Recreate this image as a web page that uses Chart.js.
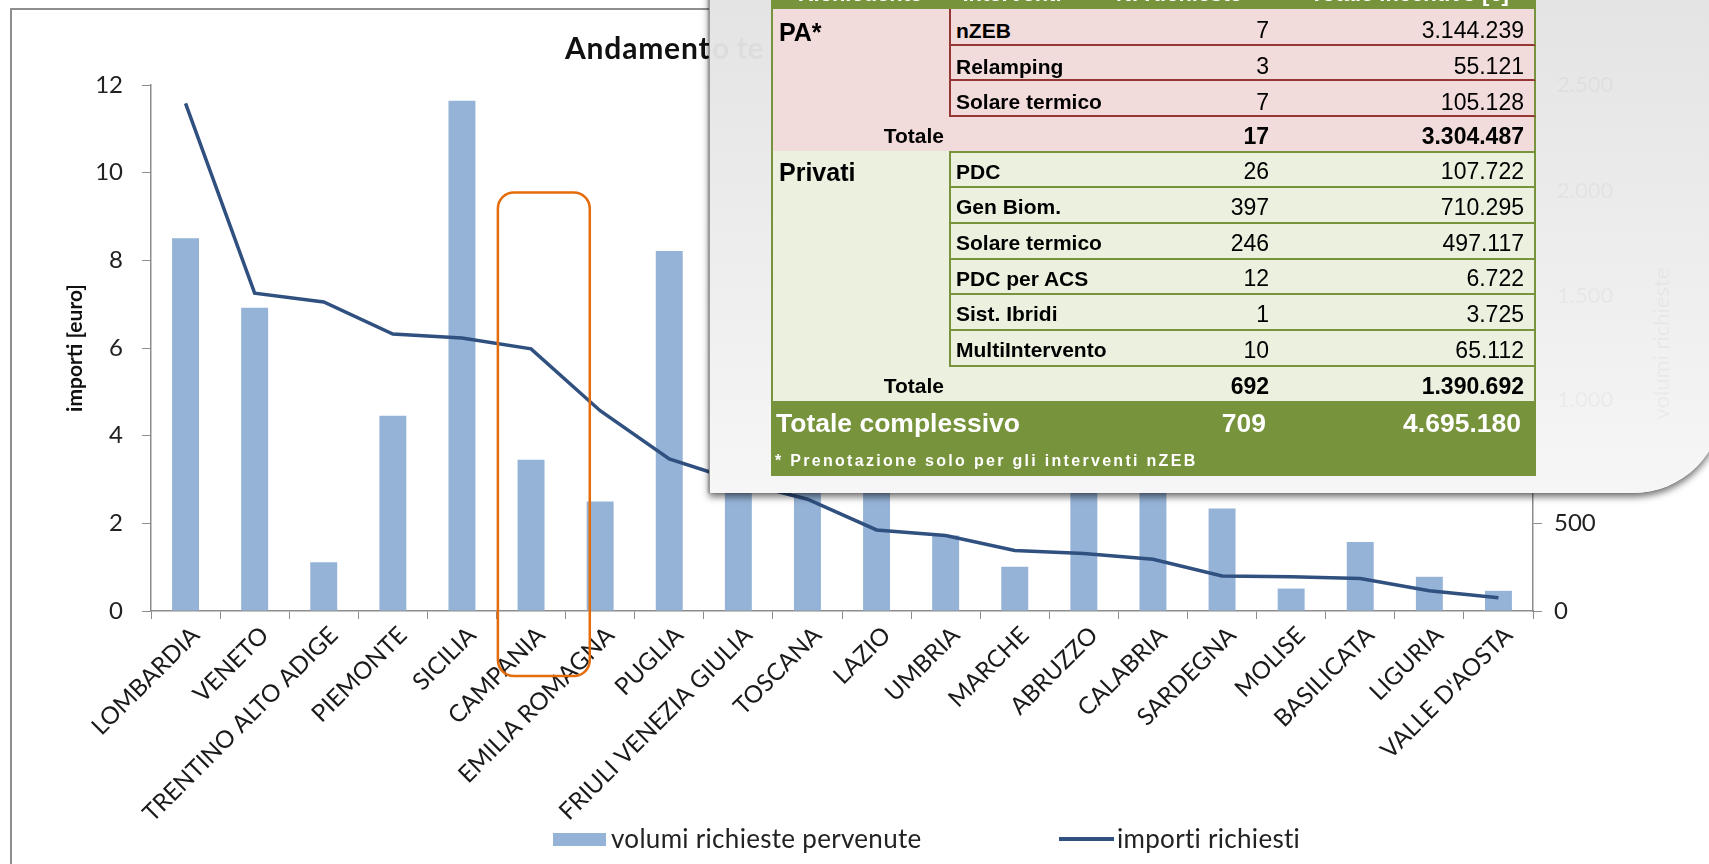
<!DOCTYPE html>
<html lang="it">
<head>
<meta charset="UTF-8">
<title>Andamento territoriale</title>
<script src="https://cdn.jsdelivr.net/npm/chart.js"></script>
<style>
  html, body { margin: 0; padding: 0; width: 1709px; height: 864px; overflow: hidden; background: #fff; }
  #frame { position: absolute; left: 10px; top: 8px; width: 2000px; height: 1000px; border: 2px solid #8e8e8e; box-sizing: border-box; }
  #grafico { position: absolute; left: 0; top: 0; }
  #titolo { position: absolute; left: 565px; top: 29px; font: bold 30px Lato, sans-serif; letter-spacing: 0.8px; color: #111; white-space: nowrap; }
  .leg { position: absolute; font: 26px Lato, sans-serif; letter-spacing: 0.3px; color: #222; white-space: nowrap; line-height: 30px; }
  #pannello {
    position: absolute; left: 709px; top: -20px; width: 1013px; height: 513px;
    border-bottom-right-radius: 90px; border-left: 1px solid #9a9a9a;
    background: linear-gradient(to bottom, #e3e3e3, #f6f6f6);
    box-shadow: 0 4px 7px rgba(0,0,0,0.55), -1px 0 2px rgba(0,0,0,0.25);
  }
  .ghost { position: absolute; color: rgba(0,0,0,0.035); white-space: nowrap; font-family: Lato, sans-serif; }
  #tabella {
    position: absolute; left: 771px; top: -27px; display: grid;
    grid-template-columns: 178px 126px 208px 253px;
    grid-template-rows: 36px 37px 35px 36px 34px 37px 36px 36px 35px 36px 36px 34px 41px 34px;
  }
  .c { display: flex; align-items: center; box-sizing: border-box; white-space: nowrap;
       font-family: "Liberation Sans", Arial, sans-serif; color: #000; padding-top: 4px; }
  .h { background: #77933C; color: #fff; font-weight: bold; font-size: 22px; justify-content: center; align-items: flex-end; line-height: 22px; padding-bottom: 4px; }
  .pa { background: #F2DCDB; }
  .pa.det { padding-top: 8px; }
  .pr { background: #EBF1DE; }
  .gr { background: #77933C; color: #fff; }
  .lab1 { align-items: flex-start; font-weight: bold; font-size: 25px; padding: 9px 0 0 6px; border-left: 2px solid #77933C; }
  .pr.lab1 { padding-top: 7px; }
  .name { font-weight: bold; font-size: 21px; padding-left: 5px; position: relative; z-index: 2; }
  .num { justify-content: flex-end; font-size: 23px; }
  .c3 { padding-right: 14px; }
  .c4 { padding-right: 10px; border-right: 2px solid #77933C; }
  .b { font-weight: bold; }
  .tot { justify-content: flex-end; font-weight: bold; font-size: 21px; padding-right: 5px; border-left: 2px solid #77933C; }
  .redL { border-left: 2px solid #953735; }
  .redB { border-bottom: 2px solid #953735; }
  .grnL { border-left: 2px solid #77933C; }
  .grnB { border-bottom: 2px solid #77933C; }
  .grnT { border-top: 2px solid #77933C; }
</style>
</head>
<body>
<div id="frame"></div>
<canvas id="grafico" width="1709" height="864"></canvas>
<div id="titolo">Andamento territoriale</div>

<div id="pannello"></div>
<div class="ghost" style="left:712px; top:29px; font-weight:bold; font-size:30px;">o te</div>
<div class="ghost" style="left:1557px; top:70px; font-size:22px;">2.500</div>
<div class="ghost" style="left:1557px; top:176px; font-size:22px;">2.000</div>
<div class="ghost" style="left:1557px; top:281px; font-size:22px;">1.500</div>
<div class="ghost" style="left:1557px; top:385px; font-size:22px;">1.000</div>
<div class="ghost" style="left:1585px; top:330px; font-size:22px; transform:rotate(-90deg);">volumi richieste</div>
<div id="tabella"></div>

<script>
    const regioni = ['LOMBARDIA', 'VENETO', 'TRENTINO ALTO ADIGE', 'PIEMONTE', 'SICILIA', 'CAMPANIA',
        'EMILIA ROMAGNA', 'PUGLIA', 'FRIULI VENEZIA GIULIA', 'TOSCANA', 'LAZIO', 'UMBRIA', 'MARCHE',
        'ABRUZZO', 'CALABRIA', 'SARDEGNA', 'MOLISE', 'BASILICATA', 'LIGURIA', "VALLE D'AOSTA"];
    const volumiRichieste = [2126, 1730, 278, 1114, 2910, 863, 625, 2053, 1450, 1250, 1120, 430, 253, 760, 980, 585, 128, 393, 195, 115];
    const importiRichiesti = [11.58, 7.25, 7.05, 6.32, 6.23, 5.98, 4.57, 3.47, 2.96, 2.55, 1.85, 1.72, 1.38, 1.31, 1.18, 0.80, 0.78, 0.74, 0.46, 0.30];
    const importiTicks = [0, 2, 4, 6, 8, 10, 12];
    const volumiTicks = [0, 500, 1000, 1500, 2000, 2500, 3000];

    // riquadro arancione sulla Campania
    const regioneEvidenziata = 'CAMPANIA';
    const riquadroTop = 9.55;

    // tabella riepilogo
    const intestazione = ['Richiedente', 'Interventi', 'N. Richieste', 'Totale incentivo [€]'];
    const interventiPA = ['nZEB', 'Relamping', 'Solare termico'];
    const richiestePA = [7, 3, 7];
    const incentivoPA = [3144239, 55121, 105128];
    const totalePA = [17, 3304487];
    const interventiPrivati = ['PDC', 'Gen Biom.', 'Solare termico', 'PDC per ACS', 'Sist. Ibridi', 'MultiIntervento'];
    const richiestePrivati = [26, 397, 246, 12, 1, 10];
    const incentivoPrivati = [107722, 710295, 497117, 6722, 3725, 65112];
    const totalePrivati = [692, 1390692];
    const totaleComplessivo = [709, 4695180];
    const nota = '* Prenotazione solo per gli interventi nZEB';

    const fmt = n => String(n).replace(/\B(?=(\d{3})+(?!\d))/g, '.');

    const coloreBarre = '#95B3D7';
    const coloreLinea = '#30507F';
    const grigioAssi = '#8c8c8c';

    const riquadro = {
        id: 'riquadro',
        afterDraw(c) {
            const x = c.scales.x, y = c.scales.yImp, ctx = c.ctx;
            const i = regioni.indexOf(regioneEvidenziata);
            const w = x.getPixelForValue(1) - x.getPixelForValue(0);
            const left = x.getPixelForValue(i) - w * 0.48;
            const right = x.getPixelForValue(i) + w * 0.85;
            const top = y.getPixelForValue(riquadroTop);
            const bottom = c.chartArea.bottom + 65;
            ctx.save();
            ctx.strokeStyle = '#E46C0A';
            ctx.lineWidth = 2.5;
            ctx.beginPath();
            ctx.roundRect(left, top, right - left, bottom - top, 16);
            ctx.stroke();
            ctx.restore();
        }
    };

    const chart = new Chart(document.getElementById('grafico'), {
        type: 'bar',
        data: {
            labels: regioni,
            datasets: [{
                type: 'bar',
                label: 'volumi richieste pervenute',
                data: volumiRichieste,
                yAxisID: 'yVol',
                backgroundColor: coloreBarre,
                barPercentage: 0.39,
                categoryPercentage: 1,
                order: 2
            }, {
                type: 'line',
                label: 'importi richiesti',
                data: importiRichiesti,
                yAxisID: 'yImp',
                borderColor: coloreLinea,
                borderWidth: 3.5,
                pointRadius: 0,
                tension: 0,
                order: 1
            }]
        },
        options: {
            responsive: false,
            animation: false,
            layout: {padding: {top: 85}},
            plugins: {legend: {display: false}, title: {display: false}, tooltip: {enabled: false}},
            scales: {
                x: {
                    grid: {drawOnChartArea: false, tickLength: 8, color: grigioAssi, offset: true},
                    border: {color: grigioAssi, width: 1.5},
                    ticks: {font: {family: 'Lato', size: 24}, color: '#1a1a1a', maxRotation: 45, minRotation: 45,
                            autoSkip: false, padding: 2, labelOffset: 10},
                    afterFit: s => { s.height = 253; }
                },
                yImp: {
                    position: 'left', min: 0, max: 12,
                    afterBuildTicks: s => { s.ticks = importiTicks.map(v => ({value: v})); },
                    grid: {drawOnChartArea: false, tickLength: 9, color: grigioAssi},
                    border: {color: grigioAssi, width: 1.5},
                    ticks: {font: {family: 'Lato', size: 24}, color: '#222', padding: 19},
                    title: {display: true, text: 'importi [euro]', font: {family: 'Lato', size: 21, weight: 'bold'}, color: '#111', padding: {top: 63}},
                    afterFit: s => { s.width = 151; }
                },
                yVol: {
                    position: 'right', min: 0, max: 3000,
                    afterBuildTicks: s => { s.ticks = volumiTicks.map(v => ({value: v})); },
                    grid: {drawOnChartArea: false, tickLength: 9, color: grigioAssi},
                    border: {color: grigioAssi, width: 1.5},
                    ticks: {font: {family: 'Lato', size: 24}, color: '#222', padding: 12, callback: v => fmt(v)},
                    title: {display: true, text: 'volumi richieste', font: {family: 'Lato', size: 20}, color: '#ccc', padding: {top: 32}},
                    afterFit: s => { s.width = 176; }
                }
            }
        },
        plugins: [riquadro]
    });

    // legenda in basso
    const legPos = [{sw: 553, tx: 611}, {sw: 1059, tx: 1117}];
    chart.data.datasets.forEach((ds, k) => {
        const sw = document.createElement('div');
        sw.style.position = 'absolute';
        sw.style.left = legPos[k].sw + 'px';
        if (ds.type === 'bar') {
            Object.assign(sw.style, {top: '833px', width: '53px', height: '13px', background: ds.backgroundColor});
        } else {
            Object.assign(sw.style, {top: '837px', width: '55px', height: '4px', background: ds.borderColor});
        }
        document.body.appendChild(sw);
        const t = document.createElement('div');
        t.className = 'leg';
        t.style.left = legPos[k].tx + 'px';
        t.style.top = '823px';
        t.textContent = ds.label;
        document.body.appendChild(t);
    });

    // tabella
    const tab = document.getElementById('tabella');
    function cella(testo, riga, col, cls) {
        const d = document.createElement('div');
        d.className = 'c ' + cls;
        d.textContent = testo;
        d.style.gridRow = riga;
        d.style.gridColumn = col;
        tab.appendChild(d);
        return d;
    }
    intestazione.forEach((t, k) => cella(t, 1, k + 1, 'h'));

    cella('PA*', '2 / 5', 1, 'pa lab1');
    interventiPA.forEach((t, k) => {
        const r = 2 + k;
        cella(t, r, 2, 'pa det name redL redB');
        cella(richiestePA[k], r, 3, 'pa det num c3 redB');
        cella(fmt(incentivoPA[k]), r, 4, 'pa det num c4 redB');
    });
    cella('Totale', 5, 1, 'pa tot');
    cella('', 5, 2, 'pa');
    cella(totalePA[0], 5, 3, 'pa num c3 b');
    cella(fmt(totalePA[1]), 5, 4, 'pa num c4 b');

    cella('Privati', '6 / 12', 1, 'pr lab1');
    interventiPrivati.forEach((t, k) => {
        const r = 6 + k;
        const top = k === 0 ? ' grnT' : '';
        cella(t, r, 2, 'pr name grnL grnB' + top);
        cella(richiestePrivati[k], r, 3, 'pr num c3 grnB' + top);
        cella(fmt(incentivoPrivati[k]), r, 4, 'pr num c4 grnB' + top);
    });
    cella('Totale', 12, 1, 'pr tot');
    cella('', 12, 2, 'pr');
    cella(totalePrivati[0], 12, 3, 'pr num c3 b');
    cella(fmt(totalePrivati[1]), 12, 4, 'pr num c4 b');

    const tc = cella('Totale complessivo', 13, '1 / 3', 'gr b');
    Object.assign(tc.style, {fontSize: '26.5px', paddingLeft: '5px'});
    const t3 = cella(totaleComplessivo[0], 13, 3, 'gr b num');
    Object.assign(t3.style, {fontSize: '26.5px', paddingRight: '17px'});
    const t4 = cella(fmt(totaleComplessivo[1]), 13, 4, 'gr b num');
    Object.assign(t4.style, {fontSize: '26.5px', paddingRight: '15px'});
    const nt = cella(nota, 14, '1 / 5', 'gr b');
    Object.assign(nt.style, {fontSize: '16px', letterSpacing: '2.3px', paddingLeft: '4px'});
</script>
</body>
</html>
